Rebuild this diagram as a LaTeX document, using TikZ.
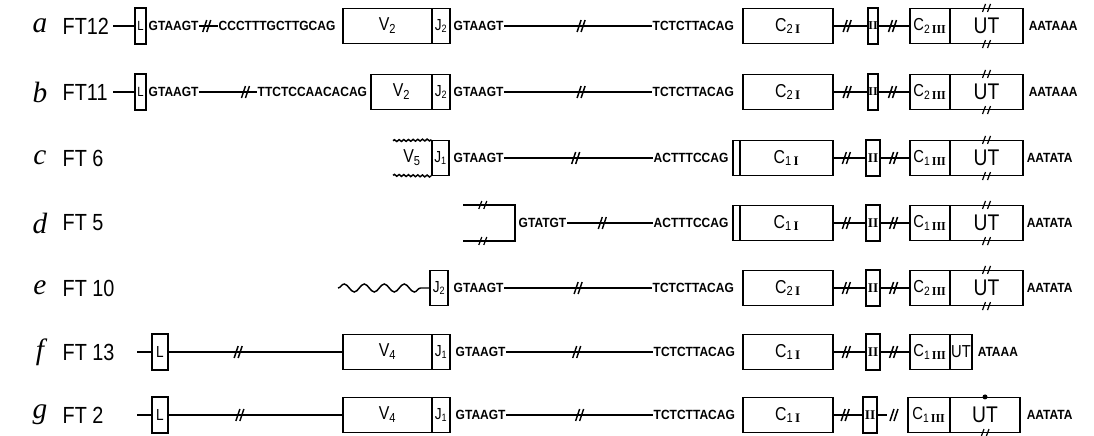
\documentclass[tikz,border=0pt]{standalone}
\usepackage{fontspec}
\setmainfont{Liberation Serif}
\setsansfont[FakeStretch=0.85]{Liberation Sans}
\newfontfamily\seqfont[FakeStretch=0.9]{Liberation Sans}
\usetikzlibrary{decorations.pathmorphing}

\tikzset{every picture/.style={line width=1.1pt}}
\tikzset{
  exon/.style={draw, inner sep=0pt, minimum height=26pt, font=\sffamily\fontsize{14}{14}\selectfont},
  cbox/.style={exon, minimum width=67.5pt},
  jbox/.style={exon, minimum width=13.5pt, font=\sffamily\fontsize{12}{12}\selectfont},
  lbox/.style={exon, minimum width=12pt, minimum height=27pt, font=\sffamily\fontsize{12}{12}\selectfont},
  iibox/.style={exon, minimum width=10.5pt, minimum height=27pt, font=\rmfamily\bfseries\fontsize{10}{10}\selectfont},
  cthree/.style={exon, minimum width=30pt, font=\sffamily\fontsize{13}{13}\selectfont},
  utbox/.style={exon, minimum width=54.75pt, font=\sffamily\fontsize{17}{17}\selectfont},
  seqtext/.style={inner sep=0pt, anchor=west, font=\seqfont\bfseries\fontsize{10}{10}\selectfont},
  clonename/.style={inner sep=0pt, anchor=west, font=\sffamily\fontsize{17.5}{17.5}\selectfont},
  rowletter/.style={inner sep=0pt, font=\rmfamily\itshape\fontsize{22}{22}\selectfont},
  bigwave/.style={decorate, decoration={snake, amplitude=3pt, segment length=15pt}},
  ripple/.style={decorate, decoration={snake, amplitude=0.7pt, segment length=3.5pt}},
}
\newcommand{\romnum}[1]{{\rmfamily\bfseries #1}}
\newcommand{\splitmark}[1]{\draw [shift={#1}] (-4,6) -- (0,-6) (0,6) -- (4,-6);}
\newcommand{\edgemark}[1]{\draw [shift={#1}, line width=0.9pt] (-4,4) -- (-1,-4) (1,4) -- (4,-4);}

\begin{document}
\begin{tikzpicture}[x=0.75pt,y=0.75pt,yscale=-1,xscale=1]
\useasboundingbox (0,0) rectangle (1094,435);

%Row a
% Text Node
\draw (40,26) node [rowletter] (a-let) {a};
% Text Node
\draw (62,26) node [clonename] (a-ft) {FT12};
\coordinate (a-in) at (113,26);
%Shape: Rectangle
\draw (140.5,26) node [lbox, minimum width=8.25pt, font=\sffamily\fontsize{10}{10}\selectfont] (a-L) {L};
%Straight Lines
\draw (a-in) -- (a-L);
% Text Node
\draw (148,26) node [seqtext] (a-gt) {GTAAGT};
% Text Node
\draw (218,26) node [seqtext] (a-ag) {CCCTTTGCTTGCAG};
%Straight Lines
\draw (a-gt) -- coordinate [pos=0.4] (a-s1) (a-ag);
\splitmark{(a-s1)}
%Shape: Rectangle
\draw (387.5,26) node [exon, minimum width=66.75pt] (a-V) {V\textsubscript{2}};
\draw (441,26) node [jbox] (a-J) {J\textsubscript{2}};
% Text Node
\draw (453,26) node [seqtext] (a-gt2) {GTAAGT};
% Text Node
\draw (652,26) node [seqtext] (a-ag2) {TCTCTTACAG};
%Straight Lines
\draw (a-gt2) -- coordinate [pos=0.52] (a-s2) (a-ag2);
\splitmark{(a-s2)}
%Shape: Rectangle
\draw (788,26) node [cbox] (a-C) {C\textsubscript{2\,\romnum{I}}};
\draw (873,26) node [iibox, minimum width=7.5pt, font=\rmfamily\bfseries\fontsize{9}{9}\selectfont] (a-II) {\romnum{II}};
\draw (930,26) node [cthree] (a-C3) {C\textsubscript{2\,\romnum{III}}};
\draw (986.5,26) node [utbox] (a-UT) {UT};
%Straight Lines
\draw (a-C) -- coordinate [pos=0.4] (a-s3) (a-II);
\splitmark{(a-s3)}
\draw (a-II) -- coordinate [pos=0.45] (a-s4) (a-C3);
\splitmark{(a-s4)}
\edgemark{(a-UT.north)}
\edgemark{(a-UT.south)}
% Text Node
\draw (1028,26) node [seqtext] (a-pa) {AATAAA};

%Row b
% Text Node
\draw (40,92) node [rowletter] (b-let) {b};
% Text Node
\draw (62,92) node [clonename] (b-ft) {FT11};
\coordinate (b-in) at (113,92);
%Shape: Rectangle
\draw (140.5,92) node [lbox, minimum width=8.25pt, font=\sffamily\fontsize{10}{10}\selectfont] (b-L) {L};
%Straight Lines
\draw (b-in) -- (b-L);
% Text Node
\draw (148,92) node [seqtext] (b-gt) {GTAAGT};
% Text Node
\draw (257,92) node [seqtext] (b-ag) {TTCTCCAACACAG};
%Straight Lines
\draw (b-gt) -- coordinate [pos=0.8] (b-s1) (b-ag);
\splitmark{(b-s1)}
%Shape: Rectangle
\draw (401.5,92) node [exon, minimum width=45.75pt] (b-V) {V\textsubscript{2}};
\draw (441,92) node [jbox] (b-J) {J\textsubscript{2}};
% Text Node
\draw (453,92) node [seqtext] (b-gt2) {GTAAGT};
% Text Node
\draw (652,92) node [seqtext] (b-ag2) {TCTCTTACAG};
%Straight Lines
\draw (b-gt2) -- coordinate [pos=0.52] (b-s2) (b-ag2);
\splitmark{(b-s2)}
%Shape: Rectangle
\draw (788,92) node [cbox] (b-C) {C\textsubscript{2\,\romnum{I}}};
\draw (873,92) node [iibox, minimum width=7.5pt, font=\rmfamily\bfseries\fontsize{9}{9}\selectfont] (b-II) {\romnum{II}};
\draw (930,92) node [cthree] (b-C3) {C\textsubscript{2\,\romnum{III}}};
\draw (986.5,92) node [utbox] (b-UT) {UT};
%Straight Lines
\draw (b-C) -- coordinate [pos=0.4] (b-s3) (b-II);
\splitmark{(b-s3)}
\draw (b-II) -- coordinate [pos=0.45] (b-s4) (b-C3);
\splitmark{(b-s4)}
\edgemark{(b-UT.north)}
\edgemark{(b-UT.south)}
% Text Node
\draw (1028,92) node [seqtext] (b-pa) {AATAAA};

%Row c
% Text Node
\draw (40,158) node [rowletter] (c-let) {c};
% Text Node
\draw (62,158) node [clonename] (c-ft) {FT 6};
%Shape: Rectangle
\draw (440.5,158) node [jbox, minimum width=12.75pt] (c-J) {J\textsubscript{1}};
% Text Node
\draw (412,158) node [font=\sffamily\fontsize{14}{14}\selectfont] (c-V) {V\textsubscript{5}};
\coordinate (c-vt) at (393,140.7);
\coordinate (c-vb) at (393,175.3);
%Curve Lines
\draw [ripple] (c-vt) -- (c-J.north west);
\draw [ripple] (c-vb) -- (c-J.south west);
% Text Node
\draw (453,158) node [seqtext] (c-gt) {GTAAGT};
% Text Node
\draw (653,158) node [seqtext] (c-ag) {ACTTTCCAG};
%Straight Lines
\draw (c-gt) -- coordinate [pos=0.48] (c-s2) (c-ag);
\splitmark{(c-s2)}
%Shape: Rectangle
\draw (736.5,158) node [exon, minimum width=5.25pt] (c-Cx) {};
\draw (786.5,158) node [cbox, minimum width=69.75pt] (c-C) {C\textsubscript{1\,\romnum{I}}};
\draw (873,158) node [iibox] (c-II) {\romnum{II}};
\draw (930,158) node [cthree] (c-C3) {C\textsubscript{1\,\romnum{III}}};
\draw (986.5,158) node [utbox] (c-UT) {UT};
%Straight Lines
\draw (c-C) -- coordinate [pos=0.4] (c-s3) (c-II);
\splitmark{(c-s3)}
\draw (c-II) -- coordinate [pos=0.45] (c-s4) (c-C3);
\splitmark{(c-s4)}
\edgemark{(c-UT.north)}
\edgemark{(c-UT.south)}
% Text Node
\draw (1026,158) node [seqtext] (c-pa) {AATATA};

%Row d
% Text Node
\draw (40,223) node [rowletter] (d-let) {d};
% Text Node
\draw (62,223) node [clonename] (d-ft) {FT 5};
\coordinate (d-t) at (463,205);
\coordinate (d-tr) at (515,205);
\coordinate (d-br) at (515,241);
\coordinate (d-b) at (463,241);
%Straight Lines
\draw (d-t) -- coordinate [pos=0.38] (d-s1) (d-tr) -- (d-br) -- coordinate [pos=0.62] (d-s2) (d-b);
\edgemark{(d-s1)}
\edgemark{(d-s2)}
% Text Node
\draw (518,223) node [seqtext] (d-gt) {GTATGT};
% Text Node
\draw (653,223) node [seqtext] (d-ag) {ACTTTCCAG};
%Straight Lines
\draw (d-gt) -- coordinate [pos=0.41] (d-s3) (d-ag);
\splitmark{(d-s3)}
%Shape: Rectangle
\draw (736.5,223) node [exon, minimum width=5.25pt] (d-Cx) {};
\draw (786.5,223) node [cbox, minimum width=69.75pt] (d-C) {C\textsubscript{1\,\romnum{I}}};
\draw (873,223) node [iibox] (d-II) {\romnum{II}};
\draw (930,223) node [cthree] (d-C3) {C\textsubscript{1\,\romnum{III}}};
\draw (986.5,223) node [utbox] (d-UT) {UT};
%Straight Lines
\draw (d-C) -- coordinate [pos=0.4] (d-s4) (d-II);
\splitmark{(d-s4)}
\draw (d-II) -- coordinate [pos=0.45] (d-s5) (d-C3);
\splitmark{(d-s5)}
\edgemark{(d-UT.north)}
\edgemark{(d-UT.south)}
% Text Node
\draw (1026,223) node [seqtext] (d-pa) {AATATA};

%Row e
% Text Node
\draw (40,288) node [rowletter] (e-let) {e};
% Text Node
\draw (62,288) node [clonename] (e-ft) {FT 10};
%Shape: Rectangle
\draw (439,288) node [jbox] (e-J) {J\textsubscript{2}};
\coordinate (e-w) at (338,288);
%Curve Lines
\draw [bigwave] (e-w) -- (e-J.west);
% Text Node
\draw (453,288) node [seqtext] (e-gt) {GTAAGT};
% Text Node
\draw (652,288) node [seqtext] (e-ag) {TCTCTTACAG};
%Straight Lines
\draw (e-gt) -- coordinate [pos=0.5] (e-s2) (e-ag);
\splitmark{(e-s2)}
%Shape: Rectangle
\draw (788,288) node [cbox] (e-C) {C\textsubscript{2\,\romnum{I}}};
\draw (873,288) node [iibox] (e-II) {\romnum{II}};
\draw (930,288) node [cthree] (e-C3) {C\textsubscript{2\,\romnum{III}}};
\draw (986.5,288) node [utbox] (e-UT) {UT};
%Straight Lines
\draw (e-C) -- coordinate [pos=0.4] (e-s3) (e-II);
\splitmark{(e-s3)}
\draw (e-II) -- coordinate [pos=0.45] (e-s4) (e-C3);
\splitmark{(e-s4)}
\edgemark{(e-UT.north)}
\edgemark{(e-UT.south)}
% Text Node
\draw (1026,288) node [seqtext] (e-pa) {AATATA};

%Row f
% Text Node
\draw (40,352) node [rowletter] (f-let) {f};
% Text Node
\draw (62,352) node [clonename] (f-ft) {FT 13};
\coordinate (f-in) at (137,352);
%Shape: Rectangle
\draw (160,352) node [lbox] (f-L) {L};
\draw (387.5,352) node [exon, minimum width=66.75pt] (f-V) {V\textsubscript{4}};
\draw (441,352) node [jbox] (f-J) {J\textsubscript{1}};
%Straight Lines
\draw (f-in) -- (f-L);
\draw (f-L) -- coordinate [pos=0.4] (f-s1) (f-V);
\splitmark{(f-s1)}
% Text Node
\draw (455,352) node [seqtext] (f-gt) {GTAAGT};
% Text Node
\draw (653,352) node [seqtext] (f-ag) {TCTCTTACAG};
%Straight Lines
\draw (f-gt) -- coordinate [pos=0.48] (f-s2) (f-ag);
\splitmark{(f-s2)}
%Shape: Rectangle
\draw (788,352) node [cbox] (f-C) {C\textsubscript{1\,\romnum{I}}};
\draw (873,352) node [iibox] (f-II) {\romnum{II}};
\draw (930,352) node [cthree] (f-C3) {C\textsubscript{1\,\romnum{III}}};
\draw (961,352) node [utbox, minimum width=16.5pt, font=\sffamily\fontsize{13}{13}\selectfont] (f-UT) {UT};
%Straight Lines
\draw (f-C) -- coordinate [pos=0.4] (f-s3) (f-II);
\splitmark{(f-s3)}
\draw (f-II) -- coordinate [pos=0.45] (f-s4) (f-C3);
\splitmark{(f-s4)}
% Text Node
\draw (977,352) node [seqtext] (f-pa) {ATAAA};

%Row g
% Text Node
\draw (40,415) node [rowletter] (g-let) {g};
% Text Node
\draw (62,415) node [clonename] (g-ft) {FT 2};
\coordinate (g-in) at (137,415);
%Shape: Rectangle
\draw (160,415) node [lbox] (g-L) {L};
\draw (387.5,415) node [exon, minimum width=66.75pt] (g-V) {V\textsubscript{4}};
\draw (441,415) node [jbox] (g-J) {J\textsubscript{1}};
%Straight Lines
\draw (g-in) -- (g-L);
\draw (g-L) -- coordinate [pos=0.41] (g-s1) (g-V);
\splitmark{(g-s1)}
% Text Node
\draw (455,415) node [seqtext] (g-gt) {GTAAGT};
% Text Node
\draw (653,415) node [seqtext] (g-ag) {TCTCTTACAG};
%Straight Lines
\draw (g-gt) -- coordinate [pos=0.5] (g-s2) (g-ag);
\splitmark{(g-s2)}
%Shape: Rectangle
\draw (788,415) node [cbox] (g-C) {C\textsubscript{1\,\romnum{I}}};
\draw (870,415) node [iibox] (g-II) {\romnum{II}};
\draw (929,415) node [cthree, minimum width=31.5pt] (g-C3) {C\textsubscript{1\,\romnum{III}}};
\draw (985,415) node [utbox, minimum width=52.5pt] (g-UT) {UT};
%Straight Lines
\draw (g-C) -- coordinate [pos=0.4] (g-s3) (g-II);
\splitmark{(g-s3)}
\coordinate (g-e) at (887,415);
\coordinate (g-s4) at (894,415);
\draw (g-II) -- (g-e);
\splitmark{(g-s4)}
\fill (g-UT.north) circle (2.5);
\edgemark{(g-UT.south)}
% Text Node
\draw (1026,415) node [seqtext] (g-pa) {AATATA};

\end{tikzpicture}
\end{document}
